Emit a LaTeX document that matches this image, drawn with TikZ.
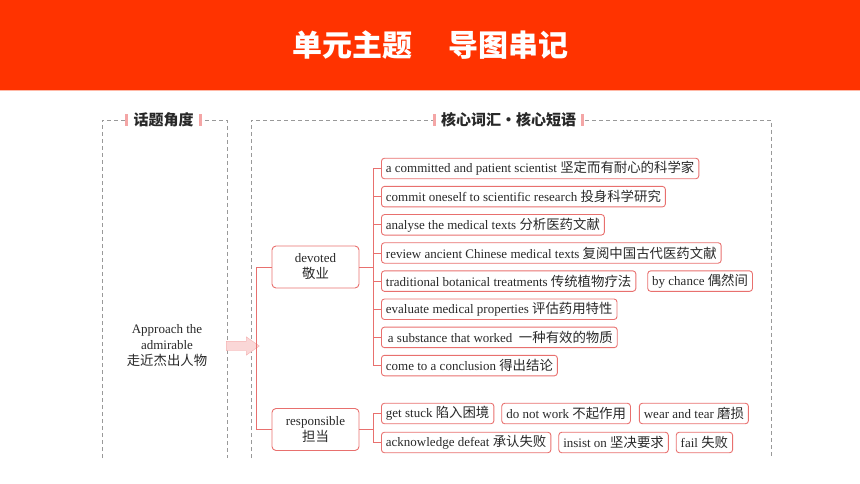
\documentclass[tikz,border=0pt]{standalone}
\usepackage{fontspec}
\setmainfont{Liberation Serif}
\newfontfamily\cjk{Noto Sans CJK SC}
\newcommand{\zh}[1]{{\cjk\fontsize{13.4}{15}\selectfont #1}}
\usetikzlibrary{positioning,shapes.arrows}
\definecolor{bannerred}{RGB}{255,51,0}
\definecolor{boxline}{RGB}{232,112,110}
\definecolor{barpink}{RGB}{244,166,166}
\definecolor{inkgray}{RGB}{40,40,40}
\tikzset{
  leaf/.style={draw=boxline, line width=0.9pt, rounded corners=3pt, anchor=west,
    minimum height=20.5pt, inner xsep=4.5pt, inner ysep=0pt, text=inkgray,
    font=\fontsize{13}{15}\selectfont},
  key/.style={draw=boxline, line width=0.9pt, rounded corners=4pt, minimum width=87pt,
    minimum height=42pt, align=center, text=inkgray, font=\fontsize{13}{16}\selectfont},
  frame/.style={draw=gray!80, dash pattern=on 4pt off 3pt, line width=0.8pt},
  heading/.style={fill=white, inner xsep=8pt, inner ysep=2pt, text=inkgray,
    font=\cjk\bfseries\fontsize{15}{17}\selectfont},
  link/.style={draw=boxline, line width=0.9pt}
}

\begin{document}
\begin{tikzpicture}[x=1pt, y=-1pt]
  \useasboundingbox (0,0) rectangle (860,484);

  % banner
  \fill[bannerred] (0,0) rectangle (860,90);
  \fill[bannerred!35] (0,90) rectangle (860,91.5);
  \node[text=white, font=\cjk\bfseries\fontsize{30}{32}\selectfont] (banner) at (430,45)
    {单元主题\hspace{36pt}导图串记};

  % dashed frames
  \draw[frame] (102,458) -- (102,120) -- (227,120) -- (227,458);
  \draw[frame] (251,458) -- (251,120) -- (771,120) -- (771,458);

  \node[heading] (angle) at (163.5,120) {话题角度};
  \node[heading] (words) at (508.5,120) {核心词汇·核心短语};
  \foreach \h in {angle,words} {
    \fill[barpink] ([yshift=-6pt]\h.west) rectangle ([xshift=3pt,yshift=6pt]\h.west);
    \fill[barpink] ([xshift=-3pt,yshift=-6pt]\h.east) rectangle ([yshift=6pt]\h.east);
  }

  \node[align=center, text=inkgray, font=\fontsize{13}{16}\selectfont] (topic) at (167,346)
    {Approach the\\admirable\\\zh{走近杰出人物}};
  \node[single arrow, draw=barpink!90, fill=barpink!45, minimum height=33pt, inner xsep=0pt,
    inner ysep=4.5pt, single arrow head extend=4.5pt, single arrow tip angle=70] (go) at (239.5,346) {};

  % key words
  \node[key] (devoted) at (315.5,267) {devoted\\\zh{敬业}};
  \node[key] (resp) at (315.5,429.5) {responsible\\\zh{担当}};
  \draw[link] (devoted.west) -- ++(-15,0) |- (resp.west);

  \coordinate (dbus) at (373,0);

  \foreach \txt [count=\i] in {a committed and patient scientist \zh{坚定而有耐心的科学家},
      commit oneself to scientific research \zh{投身科学研究},
      analyse the medical texts \zh{分析医药文献},
      review ancient Chinese medical texts \zh{复阅中国古代医药文献},
      traditional botanical treatments \zh{传统植物疗法},
      evaluate medical properties \zh{评估药用特性},
      \hspace{2pt}a substance that worked\ \ \zh{一种有效的物质},
      come to a conclusion \zh{得出结论}}
    \node[leaf] (d\i) at (381,{140.35+28.15*\i}) {\txt};
  \node[leaf, right=11pt of d5] (chance) {by chance \zh{偶然间}};

  \draw[link] (devoted.east) -- (devoted.east -| dbus);
  \draw[link] (d1.west) -- ++(-8,0) |- (d8.west);
  \foreach \i in {2,...,7}
    \draw[link] (d\i.west) -- ++(-8,0);

  \node[leaf] (r1) at (381,413.5) {get stuck \zh{陷入困境}};
  \node[leaf, right=7pt of r1] (r2) {do not work \zh{不起作用}};
  \node[leaf, right=8pt of r2] (r3) {wear and tear \zh{磨损}};
  \node[leaf] (r4) at (381,442.5) {acknowledge defeat \zh{承认失败}};
  \node[leaf, right=7pt of r4] (r5) {insist on \zh{坚决要求}};
  \node[leaf, right=7pt of r5] (r6) {fail \zh{失败}};

  \draw[link] (resp.east) -- (resp.east -| dbus);
  \draw[link] (r1.west) -- ++(-8,0) |- (r4.west);
\end{tikzpicture}
\end{document}
